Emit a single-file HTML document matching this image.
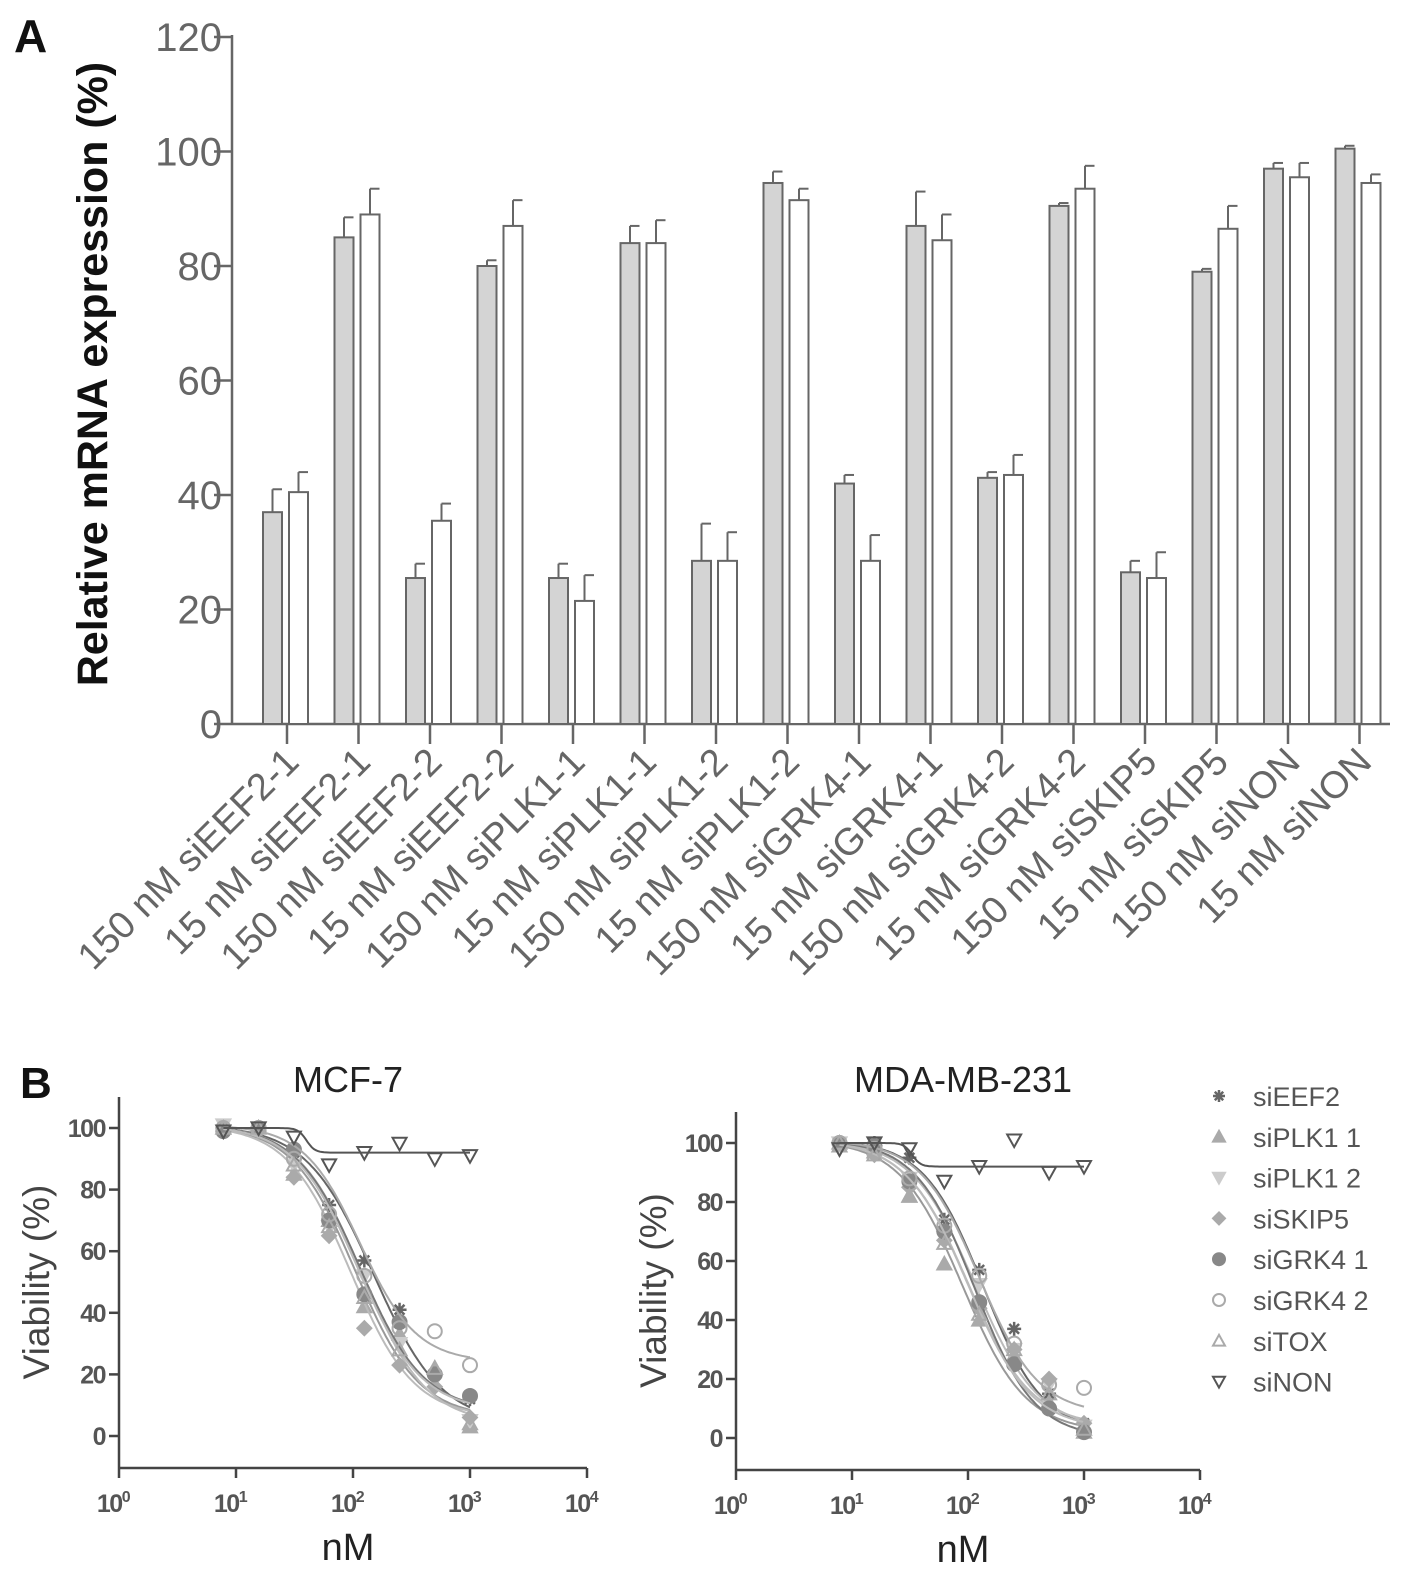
<!DOCTYPE html>
<html><head><meta charset="utf-8"><style>
body{margin:0;background:#fff;}
svg{display:block;font-family:"Liberation Sans",sans-serif;}
</style></head><body>
<svg id="fig" width="1417" height="1583" viewBox="0 0 1417 1583"></svg>
<script>
// ---- Panel A data ----
const groupLabels = ["150 nM siEEF2-1","15 nM siEEF2-1","150 nM siEEF2-2","15 nM siEEF2-2","150 nM siPLK1-1","15 nM siPLK1-1","150 nM siPLK1-2","15 nM siPLK1-2","150 nM siGRK4-1","15 nM siGRK4-1","150 nM siGRK4-2","15 nM siGRK4-2","150 nM siSKIP5","15 nM siSKIP5","150 nM siNON","15 nM siNON"];
const grayValues = [37,85,25.5,80,25.5,84,28.5,94.5,42,87,43,90.5,26.5,79,97,100.5];
const grayErrors = [4,3.5,2.5,1,2.5,3,6.5,2,1.5,6,1,0.5,2,0.5,1,0.5];
const whiteValues = [40.5,89,35.5,87,21.5,84,28.5,91.5,28.5,84.5,43.5,93.5,25.5,86.5,95.5,94.5];
const whiteErrors = [3.5,4.5,3,4.5,4.5,4,5,2,4.5,4.5,3.5,4,4.5,4,2.5,1.5];
const yTicksA = [0,20,40,60,80,100,120];

// ---- Panel B data ----
const doses = [7.8,15.6,31.25,62.5,125,250,500,1000];
const seriesNames = ["siEEF2","siPLK1 1","siPLK1 2","siSKIP5","siGRK4 1","siGRK4 2","siTOX","siNON"];
const mcfEEF2 = [100,100,92,75,57,41,20,12];
const mcfPLK1a = [100,100,85,70,42,33,22,3];
const mcfPLK1b = [101,100,88,68,52,30,18,5];
const mcfSKIP5 = [100,99,84,65,35,23,16,6];
const mcfGRK4a = [99,100,93,70,46,37,20,13];
const mcfGRK4b = [100,100,90,72,52,35,34,23];
const mcfTOX = [100,100,88,68,45,28,22,4];
const mcfNON = [99,100,97,88,92,95,90,91];
const mdaEEF2 = [100,100,95,74,57,37,15,5];
const mdaPLK1a = [99,97,82,59,40,28,12,2];
const mdaPLK1b = [100,97,88,68,52,30,18,4];
const mdaSKIP5 = [100,96,85,67,44,30,20,5];
const mdaGRK4a = [100,99,87,70,46,25,10,2];
const mdaGRK4b = [100,98,88,72,55,32,18,17];
const mdaTOX = [100,96,82,66,42,30,15,3];
const mdaNON = [98,100,98,87,92,101,90,92];
// 4PL fit params: [top,bottom,ic50,hill]
const mcfFits = [[101,4,150,1.5],[101,6,105,1.6],[101,4,120,1.6],[101,6,95,1.6],[101,8,115,1.6],[101,24,115,1.8],[101,8,110,1.6],[100,92,40,12]];
const mdaFits = [[101,2,135,1.7],[101,2,90,1.6],[101,3,115,1.6],[101,4,100,1.6],[101,0,115,1.7],[101,8,125,1.7],[101,3,100,1.6],[100,92,33,12]];
const yTicksB = [0,20,40,60,80,100];
const xDecades = [0,1,2,3,4];

const NS="http://www.w3.org/2000/svg";
const svg=document.getElementById('fig');
function mk(tag,attrs,parent){const e=document.createElementNS(NS,tag);for(const k in attrs)e.setAttribute(k,attrs[k]);(parent||svg).appendChild(e);return e;}

// ---------- Panel A ----------
const A={x0:232,y0:724,perUnit:(724-37)/120,first:287,pitch:71.5,xEnd:1390};
const yA=v=>A.y0-v*A.perUnit;
const cx=i=>A.first+i*A.pitch;
let g=mk('g',{});


let t=mk('text',{x:14,y:52,'font-size':46,'font-weight':'bold',fill:'#111'},g);t.textContent='A';

let ax=mk('line',{x1:A.x0,y1:yA(120)-2,x2:A.x0,y2:A.y0,stroke:'#666','stroke-width':2.5},g);

let xax=mk('line',{x1:A.x0,y1:A.y0,x2:A.xEnd,y2:A.y0,stroke:'#666','stroke-width':2.5},g);

yTicksA.forEach(v=>{
  mk('line',{x1:A.x0-18,y1:yA(v),x2:A.x0,y2:yA(v),stroke:'#666','stroke-width':2.5},g);
  const tt=mk('text',{x:A.x0-10,y:yA(v)+14,'font-size':40,'text-anchor':'end',fill:'#666'},g);
  tt.textContent=v;
  
});
t=mk('text',{transform:'translate(107,374) rotate(-90)','font-size':43,'font-weight':'bold','text-anchor':'middle',fill:'#111'},g);
t.textContent='Relative mRNA expression (%)';

const bw=19;
groupLabels.forEach((lab,i)=>{
  const c=cx(i);
  const gx=c-24, wx=c+2;
  const gb=mk('rect',{x:gx,y:yA(grayValues[i]),width:bw,height:A.y0-yA(grayValues[i]),fill:'#d4d4d4',stroke:'#666','stroke-width':2},g);
  
  mk('line',{x1:gx+bw/2,y1:yA(grayValues[i]),x2:gx+bw/2,y2:yA(grayValues[i]+grayErrors[i]),stroke:'#666','stroke-width':2},g);
  mk('line',{x1:gx+bw/2,y1:yA(grayValues[i]+grayErrors[i]),x2:gx+bw,y2:yA(grayValues[i]+grayErrors[i]),stroke:'#666','stroke-width':2},g);
  const wb=mk('rect',{x:wx,y:yA(whiteValues[i]),width:bw,height:A.y0-yA(whiteValues[i]),fill:'#fff',stroke:'#666','stroke-width':2},g);
  
  mk('line',{x1:wx+bw/2,y1:yA(whiteValues[i]),x2:wx+bw/2,y2:yA(whiteValues[i]+whiteErrors[i]),stroke:'#666','stroke-width':2},g);
  mk('line',{x1:wx+bw/2,y1:yA(whiteValues[i]+whiteErrors[i]),x2:wx+bw,y2:yA(whiteValues[i]+whiteErrors[i]),stroke:'#666','stroke-width':2},g);
  mk('line',{x1:c,y1:A.y0,x2:c,y2:A.y0+20,stroke:'#666','stroke-width':2.5},g);
  const lt=mk('text',{transform:`translate(${c+14},${A.y0+40}) rotate(-45)`,'font-size':38,'text-anchor':'end',fill:'#666'},g);
  lt.textContent=lab;
  
});

// ---------- Panel B ----------
const styles=[
 {m:'star',fill:'#666',stroke:'#666'},
 {m:'tri',fill:'#aaa',stroke:'#aaa'},
 {m:'dtri',fill:'#ccc',stroke:'#ccc'},
 {m:'dia',fill:'#aaa',stroke:'#aaa'},
 {m:'circ',fill:'#888',stroke:'#888'},
 {m:'circ',fill:'none',stroke:'#aaa'},
 {m:'tri',fill:'none',stroke:'#aaa'},
 {m:'dtri',fill:'none',stroke:'#555'}];
const lineCols=['#666','#999','#bbb','#bbb','#777','#aaa','#bbb','#555'];
function marker(p,s,x,y,r){
  let e;
  if(s.m==='circ')e=mk('circle',{cx:x,cy:y,r:r,fill:s.fill,stroke:s.stroke,'stroke-width':2},p);
  else if(s.m==='tri')e=mk('polygon',{points:`${x},${y-r} ${x-r},${y+r*0.8} ${x+r},${y+r*0.8}`,fill:s.fill,stroke:s.stroke,'stroke-width':2},p);
  else if(s.m==='dtri')e=mk('polygon',{points:`${x},${y+r} ${x-r},${y-r*0.8} ${x+r},${y-r*0.8}`,fill:s.fill,stroke:s.stroke,'stroke-width':2},p);
  else if(s.m==='dia')e=mk('polygon',{points:`${x},${y-r} ${x-r},${y} ${x},${y+r} ${x+r},${y}`,fill:s.fill,stroke:s.stroke,'stroke-width':2},p);
  else {e=mk('path',{d:`M${x-r},${y}H${x+r}M${x},${y-r}V${y+r}M${x-r*.7},${y-r*.7}L${x+r*.7},${y+r*.7}M${x-r*.7},${y+r*.7}L${x+r*.7},${y-r*.7}`,stroke:s.stroke,'stroke-width':2.5,fill:'none'},p);}
  return e;
}
function panel(P,title,data,fits,name){
  const gp=mk('g',{});
  
  const X=d=>P.x0+Math.log10(d)*P.dec;
  const Y=v=>P.y0-v*P.per;
  mk('line',{x1:P.x0,y1:P.top,x2:P.x0,y2:P.axY,stroke:'#444','stroke-width':2.5},gp);
  mk('line',{x1:P.x0,y1:P.axY,x2:P.x0+4*P.dec,y2:P.axY,stroke:'#444','stroke-width':2.5},gp);
  yTicksB.forEach(v=>{
    mk('line',{x1:P.x0-10,y1:Y(v),x2:P.x0,y2:Y(v),stroke:'#444','stroke-width':2.5},gp);
    const tt=mk('text',{x:P.x0-14,y:Y(v)+9,'font-size':25,'font-weight':'bold','text-anchor':'end',fill:'#555','letter-spacing':-1.5},gp);
    tt.textContent=v;
    
  });
  xDecades.forEach(k=>{
    const xx=P.x0+k*P.dec;
    mk('line',{x1:xx,y1:P.axY,x2:xx,y2:P.axY+10,stroke:'#444','stroke-width':2.5},gp);
    const tt=mk('text',{x:xx-6,y:P.axY+44,'font-size':25,'font-weight':'bold','text-anchor':'middle',fill:'#555','letter-spacing':-1.5},gp);
    tt.textContent='10';
    const sp=mk('tspan',{dy:-10,'font-size':16},tt);sp.textContent=k;
    
  });
  let tt=mk('text',{x:P.x0+2*P.dec-5,y:P.titleY,'font-size':36,'text-anchor':'middle',fill:'#222'},gp);
  tt.textContent=title;
  tt=mk('text',{x:P.x0+2*P.dec-5,y:P.axY+92,'font-size':38,'text-anchor':'middle',fill:'#222'},gp);
  tt.textContent='nM';
  tt=mk('text',{transform:`translate(${P.x0-70},${Y(50)}) rotate(-90)`,'font-size':37,'text-anchor':'middle',fill:'#444'},gp);
  tt.textContent='Viability (%)';
  data.forEach((vals,si)=>{
    const f=fits[si];
    let d='';
    for(let k=0;k<=120;k++){
      const lx=Math.log10(doses[0])+(Math.log10(doses[doses.length-1])-Math.log10(doses[0]))*k/120;
      const c=Math.pow(10,lx);
      const v=f[1]+(f[0]-f[1])/(1+Math.pow(c/f[2],f[3]));
      d+=(k?'L':'M')+X(c).toFixed(1)+','+Y(v).toFixed(1);
    }
    const cl=mk('path',{d:d,fill:'none',stroke:lineCols[si],'stroke-width':2},gp);
    
    vals.forEach((v,j)=>{
      const mkr=marker(gp,styles[si],X(doses[j]),Y(v),7);
      
    });
  });
}
panel({x0:119,dec:117,y0:1436,per:3.08,axY:1468,top:1097,titleY:1092},'MCF-7',
 [mcfEEF2,mcfPLK1a,mcfPLK1b,mcfSKIP5,mcfGRK4a,mcfGRK4b,mcfTOX,mcfNON],mcfFits,'panel-b-mcf7');
panel({x0:736,dec:116,y0:1438,per:2.95,axY:1470,top:1112,titleY:1092},'MDA-MB-231',
 [mdaEEF2,mdaPLK1a,mdaPLK1b,mdaSKIP5,mdaGRK4a,mdaGRK4b,mdaTOX,mdaNON],mdaFits,'panel-b-mda');
t=mk('text',{x:20,y:1098,'font-size':44,'font-weight':'bold',fill:'#111'});t.textContent='B';

// legend
const lg=mk('g',{});

seriesNames.forEach((n,i)=>{
  const y=1096+i*40.8;
  const ent=mk('g',{},lg);
  
  marker(ent,styles[i],1219,y,6);
  const tt=mk('text',{x:1253,y:y+10,'font-size':27,fill:'#555'},ent);tt.textContent=n;
});
</script>
</body></html>
